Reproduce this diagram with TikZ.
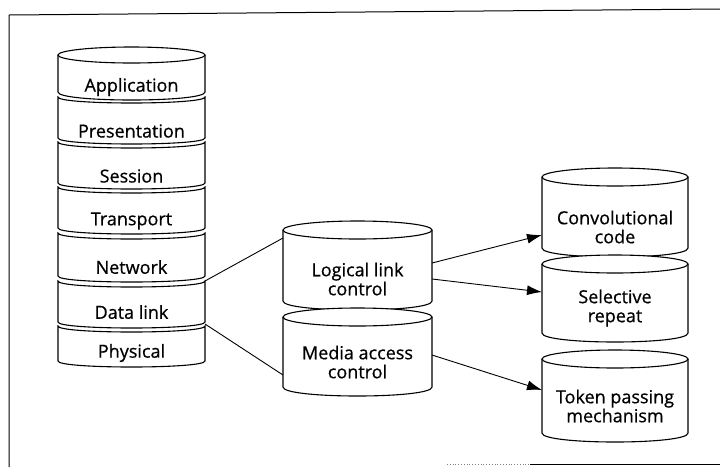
\documentclass[tikz,border=0pt]{standalone}
\usepackage{fontspec}
\setmainfont{Open Sans}
\newfontfamily\lblfont{Open Sans}[FakeBold=0.6]
\usetikzlibrary{arrows.meta}
\newcommand\cylshape[5]{% x1 x2 yc ybot ry
  \draw[shapeline] (#1,#3) -- (#1,#4) .. controls (#1,#4+4/3*#5) and (#2,#4+4/3*#5) .. (#2,#4) -- (#2,#3);
  \draw[shapeline] ({(#1+#2)/2},#3) ellipse [x radius={(#2-#1)/2}, y radius=#5];
}
\newcommand\layershape[5]{% x1 x2 ytop ybot bulge
  \draw[shapeline] (#1,#3) .. controls (#1,#3+4/3*#5) and (#2,#3+4/3*#5) .. (#2,#3) -- (#2,#4) .. controls (#2,#4+4/3*#5) and (#1,#4+4/3*#5) .. (#1,#4) -- cycle;
}
\begin{document}
\begin{tikzpicture}[x=1pt,y=-1pt,
  shapeline/.style={line width=1.1pt, fill=white},
  lbl/.style={font=\lblfont\fontsize{18}{19}\selectfont, align=center, inner sep=0pt},
  link/.style={line width=0.9pt},
  arr/.style={line width=0.9pt, -{Latex[length=15pt,width=10pt]}}]
\useasboundingbox (0,0) rectangle (720,467);
\fill[white] (0,0) rectangle (720,467);
% frame
\draw[line width=1pt] (720,9) -- (9,15) -- (9,467);
\draw[line width=0.8pt, gray, dotted] (447,464) -- (530,464);
\draw[line width=1pt] (530,464) -- (720,464);
% left stack
\cylshape{58}{205}{55}{92}{8}
\layershape{58}{205}{97}{138}{6}
\layershape{58}{205}{142}{183}{6}
\layershape{58}{205}{187}{228}{6}
\layershape{58}{205}{233}{276}{6}
\layershape{58}{205}{281}{322}{6}
\layershape{58}{205}{326}{361}{6}
\node[lbl] (app) at (131.5,87) {Application};
\node[lbl] (pres) at (131.5,131) {Presentation};
\node[lbl] (sess) at (131.5,176) {Session};
\node[lbl] (trans) at (131.5,221) {Transport};
\node[lbl] (net) at (131.5,267) {Network};
\node[lbl] (dl) at (131.5,312) {Data link};
\node[lbl] (phys) at (131.5,353) {Physical};
% middle
\cylshape{283}{432}{230}{301}{9}
\cylshape{283}{432}{317}{387}{9}
\node[lbl] (llc) at (357.5,279) {Logical link\\control};
\node[lbl] (mac) at (357.5,362) {Media access\\control};
% right
\cylshape{542}{688}{177}{248}{9}
\cylshape{542}{688}{264}{333}{9}
\cylshape{542}{688}{359}{433}{9}
\node[lbl] (conv) at (615,227) {Convolutional\\code};
\node[lbl] (sel) at (615,308) {Selective\\repeat};
\node[lbl] (tok) at (615,406) {Token passing\\mechanism};
% connection points
\coordinate (dlTR) at (205,281);
\coordinate (dlBR) at (205,324);
\coordinate (llcL) at (283,238);
\coordinate (macL) at (283,375);
\coordinate (llcR1) at (432,263);
\coordinate (llcR2) at (432,279);
\coordinate (macR) at (432,355);
\coordinate (convL) at (542,235);
\coordinate (selL) at (542,292);
\coordinate (tokL) at (542,390);
\draw[link] (dlTR) -- (llcL);
\draw[link] (dlBR) -- (macL);
\draw[arr] (llcR1) -- (convL);
\draw[arr] (llcR2) -- (selL);
\draw[arr] (macR) -- (tokL);
\end{tikzpicture}
\end{document}
